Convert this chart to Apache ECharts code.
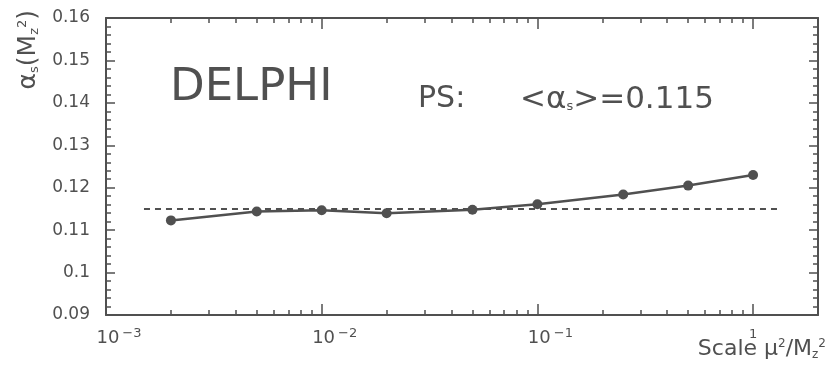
<!DOCTYPE html>
<html>
<head>
<meta charset="utf-8">
<script src="https://cdn.jsdelivr.net/npm/echarts@6/dist/echarts.min.js"></script>
<style>
  html, body { margin: 0; padding: 0; background: #fff; }
  #chart { width: 828px; height: 372px; }
</style>
</head>
<body>
<div id="chart"></div>
<script>
// alpha_s(Mz^2) vs renormalisation scale (DELPHI, PS)
const scaleX = [0.002, 0.005, 0.01, 0.02, 0.05, 0.1, 0.25, 0.5, 1.0]
const alphaS = [0.1123, 0.1144, 0.1147, 0.1140, 0.1148, 0.1161, 0.1184, 0.1205, 0.1230]
// mean value line <alpha_s> = 0.115
const meanX = [0.0015, 1.33]
const meanAlpha = [0.115, 0.115]

const xMin = 0.001
const xMax = 2
const yMin = 0.09
const yMax = 0.16
const yStep = 0.01

const ink = '#505050'
const font = 'DejaVu Sans'

const xLabelRich = {
  base: { fontSize: 18, fontFamily: font, color: ink, lineHeight: 22, padding: [0, 0, 0, 26] },
  sup: { fontSize: 13, fontFamily: font, color: ink, verticalAlign: 'top', lineHeight: 14, padding: [0, 0, 0, 3] },
  one: { fontSize: 13, fontFamily: font, color: ink, lineHeight: 14, padding: [2, 0, 0, 0] }
}

function xLabel(v) {
  const e = Math.round(Math.log10(v))
  if (Math.abs(Math.log10(v) - e) > 1e-6) return ''
  if (e === 0) return '{one|1}'
  return '{base|10}{sup|\u2212' + Math.abs(e) + '}'
}

function buildOption() {
  const tick = { show: true, inside: true, length: 11, lineStyle: { color: ink, width: 1.5 } }
  const minor = { show: true, length: 5, lineStyle: { color: ink, width: 1.5 } }
  const line = { show: true, lineStyle: { color: ink, width: 2 } }
  const txt = (size) => ({ fontSize: size, fontFamily: font, fill: ink })

  return {
    animation: false,
    backgroundColor: '#fff',
    grid: { left: 106, right: 10, top: 18, bottom: 57 },
    xAxis: [
      {
        type: 'log', logBase: 10, min: xMin, max: xMax,
        axisLine: line, axisTick: tick,
        minorTick: Object.assign({ splitNumber: 9 }, minor),
        splitLine: { show: false },
        axisLabel: { margin: 12, formatter: xLabel, rich: xLabelRich, showMaxLabel: false, showMinLabel: true, hideOverlap: false }
      },
      {
        type: 'log', logBase: 10, position: 'top', min: xMin, max: xMax,
        axisLine: line, axisTick: tick,
        minorTick: Object.assign({ splitNumber: 9 }, minor),
        splitLine: { show: false },
        axisLabel: { show: false }
      }
    ],
    yAxis: [
      {
        type: 'value', min: yMin, max: yMax, interval: yStep,
        axisLine: line,
        axisTick: Object.assign({}, tick, { length: 9 }),
        minorTick: Object.assign({ splitNumber: 5 }, minor),
        splitLine: { show: false },
        axisLabel: { margin: 16, fontSize: 17, fontFamily: font, color: ink, formatter: v => String(+v.toFixed(2)) }
      },
      {
        type: 'value', position: 'right', min: yMin, max: yMax, interval: yStep,
        axisLine: line,
        axisTick: Object.assign({}, tick, { length: 9 }),
        minorTick: Object.assign({ splitNumber: 5 }, minor),
        splitLine: { show: false },
        axisLabel: { show: false }
      }
    ],
    graphic: [
      {
        type: 'text', left: 170, top: 66,
        style: { text: '{n|DELPHI}', rich: { n: txt(45) } }
      },
      {
        type: 'text', left: 418, top: 84,
        style: { text: '{n|PS:}', rich: { n: txt(30) } }
      },
      {
        type: 'text', left: 520, top: 84,
        style: {
          text: '{n|<\u03b1}{sub|s}{n|>=0.115}',
          rich: { n: txt(31), sub: Object.assign(txt(13), { padding: [14, 0, 0, 0] }) }
        }
      },
      {
        type: 'text', left: 16, top: 10,
        rotation: Math.PI / 2,
        style: {
          text: '{n|\u03b1}{sub|s}{n|(M}{sub|z}{sup|2}{n|)}',
          rich: {
            n: txt(25),
            sub: Object.assign(txt(13), { padding: [12, 0, 0, 0] }),
            sup: Object.assign(txt(13), { padding: [0, 0, 12, 0] })
          }
        }
      },
      {
        type: 'text', right: 2, top: 338,
        style: {
          text: '{n|Scale \u03bc}{sup|2}{n|/M}{sub|z}{sup|2}',
          rich: {
            n: txt(22),
            sub: Object.assign(txt(12), { padding: [11, 0, 0, 0] }),
            sup: Object.assign(txt(12), { padding: [0, 0, 11, 0] })
          }
        }
      }
    ],
    series: [
      {
        type: 'line', xAxisIndex: 0, yAxisIndex: 0,
        data: meanX.map((x, i) => [x, meanAlpha[i]]),
        showSymbol: false,
        lineStyle: { color: ink, width: 2, type: [6, 5] },
        z: 2
      },
      {
        type: 'line', xAxisIndex: 0, yAxisIndex: 0,
        data: scaleX.map((x, i) => [x, alphaS[i]]),
        symbol: 'circle', symbolSize: 10,
        itemStyle: { color: ink },
        lineStyle: { color: ink, width: 2.5 },
        z: 3
      }
    ]
  }
}

const chart = echarts.init(document.getElementById('chart'))
chart.setOption(buildOption())
</script>
</body>
</html>
